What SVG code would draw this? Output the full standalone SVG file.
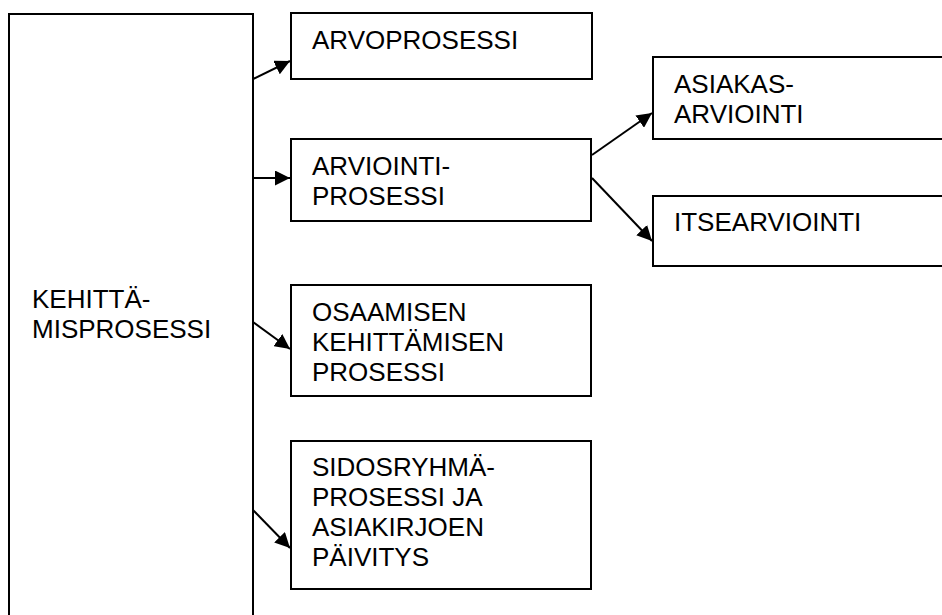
<svg xmlns="http://www.w3.org/2000/svg" width="942" height="615" viewBox="0 0 942 615">
  <style>
    .box { fill: #ffffff; stroke: #000000; stroke-width: 2; }
    .lbl { font-family: "Liberation Sans", Arial, sans-serif; font-size: 26px; fill: #000000; }
    .conn { stroke: #000000; stroke-width: 2; fill: none; marker-end: url(#head); }
  </style>
  <defs>
    <marker id="head" viewBox="0 0 10 10" refX="10" refY="5" markerWidth="7.5" markerHeight="7.5" markerUnits="strokeWidth" orient="auto">
      <path d="M0,0 L10,5 L0,10 Z" fill="#000000"/>
    </marker>
  </defs>
  <rect width="942" height="615" fill="#ffffff"/>

  <g id="kehittamisprosessi">
    <rect class="box" x="9" y="14" width="244" height="620"/>
    <text class="lbl" x="32" y="308">KEHITTÄ-</text>
    <text class="lbl" x="32" y="338">MISPROSESSI</text>
  </g>

  <g id="arvoprosessi">
    <rect class="box" x="291" y="13" width="301" height="66"/>
    <text class="lbl" x="312" y="49">ARVOPROSESSI</text>
  </g>

  <g id="arviointiprosessi">
    <rect class="box" x="291" y="139" width="300" height="82"/>
    <text class="lbl" x="312" y="175">ARVIOINTI-</text>
    <text class="lbl" x="312" y="205">PROSESSI</text>
  </g>

  <g id="asiakasarviointi">
    <rect class="box" x="653" y="57" width="320" height="82"/>
    <text class="lbl" x="674" y="93">ASIAKAS-</text>
    <text class="lbl" x="674" y="123">ARVIOINTI</text>
  </g>

  <g id="itsearviointi">
    <rect class="box" x="653" y="196" width="320" height="70"/>
    <text class="lbl" x="674" y="231">ITSEARVIOINTI</text>
  </g>

  <g id="osaaminen">
    <rect class="box" x="291" y="285" width="300" height="111"/>
    <text class="lbl" x="312" y="321">OSAAMISEN</text>
    <text class="lbl" x="312" y="351">KEHITTÄMISEN</text>
    <text class="lbl" x="312" y="381">PROSESSI</text>
  </g>

  <g id="sidosryhma">
    <rect class="box" x="291" y="441" width="300" height="148"/>
    <text class="lbl" x="312" y="476">SIDOSRYHMÄ-</text>
    <text class="lbl" x="312" y="506">PROSESSI JA</text>
    <text class="lbl" x="312" y="536">ASIAKIRJOEN</text>
    <text class="lbl" x="312" y="566">PÄIVITYS</text>
  </g>

  <g id="connectors">
    <line class="conn" x1="253" y1="79" x2="290" y2="61"/>
    <line class="conn" x1="253" y1="178" x2="290" y2="178"/>
    <line class="conn" x1="253" y1="322" x2="290" y2="349"/>
    <line class="conn" x1="253" y1="510" x2="290" y2="548"/>
    <line class="conn" x1="592" y1="155" x2="652" y2="113"/>
    <line class="conn" x1="592" y1="178" x2="652" y2="241"/>
  </g>
</svg>
